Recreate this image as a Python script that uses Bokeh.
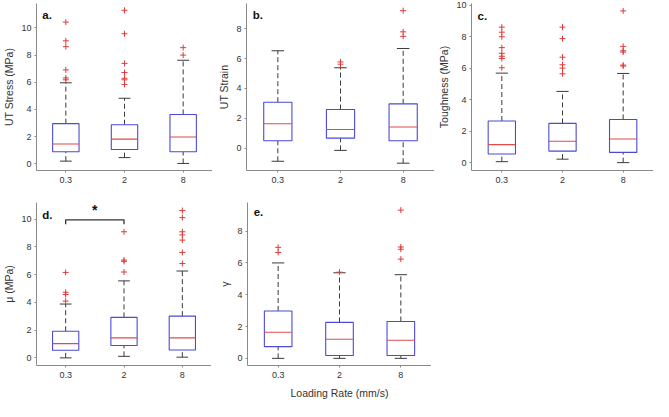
from bokeh.plotting import figure
from bokeh.layouts import column, row
from bokeh.models import FixedTicker, Range1d, ColumnDataSource, Label
from bokeh.embed import file_html
from bokeh.resources import INLINE

rates = ["0.3", "2", "8"]
xpos = [1, 2, 3]

# a. UT Stress (MPa)
a_low = [0.19, 0.45, 0.02]
a_q1 = [0.88, 1.05, 0.88]
a_med = [1.45, 1.81, 1.97]
a_q3 = [2.95, 2.87, 3.63]
a_high = [5.96, 4.82, 7.62]
a_out = [[10.43, 9.05, 8.62, 6.91, 6.32, 6.18],
         [11.3, 9.57, 7.39, 6.72, 6.29, 6.18, 5.84],
         [8.55, 8.0]]

# b. UT Strain
b_low = [-0.88, -0.15, -1.01]
b_q1 = [0.5, 0.67, 0.5]
b_med = [1.64, 1.25, 1.42]
b_q3 = [3.08, 2.59, 2.97]
b_high = [6.53, 5.39, 6.68]
b_out = [[], [5.78, 5.63], [9.22, 7.8, 7.5]]

# c. Toughness (MPa)
c_low = [0.06, 0.22, 0.0]
c_q1 = [0.55, 0.73, 0.65]
c_med = [1.14, 1.36, 1.5]
c_q3 = [2.64, 2.49, 2.74]
c_high = [5.68, 4.52, 5.66]
c_out = [[8.6, 8.28, 7.99, 7.3, 6.94, 6.75, 6.61, 6.02],
         [8.6, 7.87, 6.69, 6.21, 6.0, 5.64],
         [9.63, 7.38, 7.1, 7.02, 6.19, 6.13]]

# d. mu (MPa)
d_low = [0.0, 0.11, 0.05]
d_q1 = [0.55, 0.89, 0.57]
d_med = [1.03, 1.44, 1.44]
d_q3 = [1.92, 2.92, 3.01]
d_high = [3.88, 5.55, 6.26]
d_out = [[6.16, 4.73, 4.57, 4.09],
         [9.09, 7.05, 6.96, 6.19],
         [10.62, 10.11, 9.09, 8.86, 8.49, 7.6, 6.8]]

# e. gamma
e_low = [0.0, 0.0, 0.0]
e_q1 = [0.74, 0.18, 0.18]
e_med = [1.64, 1.2, 1.14]
e_q3 = [2.98, 2.26, 2.32]
e_high = [6.0, 5.38, 5.26]
e_out = [[6.98, 6.66], [5.42], [9.32, 7.0, 6.86, 6.24]]

FONT = "Liberation Sans"
BOX_COLOR = "#4a4ad6"
MED_COLOR = "#e04a4a"
OUT_COLOR = "#e03a3a"
WHISK_COLOR = "#3a3a3a"
AXIS_COLOR = "#8a8a8a"

BOX_W = 0.45
CAP_W = 0.2


def make_panel(letter, letter_y, ylabel, low, q1, med, q3, high, outs, yr, yticks,
               width, height, bl, bt, bb, xlabel=None):
    p = figure(width=width, height=height, output_backend="svg", toolbar_location=None,
               x_range=Range1d(0.5, 3.5), y_range=Range1d(*yr),
               min_border_left=bl, min_border_right=0, min_border_top=bt,
               min_border_bottom=bb)
    p.outline_line_color = None
    p.xgrid.visible = False
    p.ygrid.visible = False
    p.background_fill_color = "white"
    p.border_fill_color = "white"

    src = ColumnDataSource(dict(x=xpos, low=low, q1=q1, med=med, q3=q3, high=high,
                                xl=[v - BOX_W / 2 for v in xpos],
                                xr=[v + BOX_W / 2 for v in xpos],
                                cl=[v - CAP_W / 2 for v in xpos],
                                cr=[v + CAP_W / 2 for v in xpos]))
    # whiskers
    p.segment(x0="x", y0="q3", x1="x", y1="high", source=src, line_color=WHISK_COLOR,
              line_dash="5 3", line_width=1)
    p.segment(x0="x", y0="low", x1="x", y1="q1", source=src, line_color=WHISK_COLOR,
              line_dash="5 3", line_width=1)
    # caps
    p.segment(x0="cl", y0="high", x1="cr", y1="high", source=src, line_color=WHISK_COLOR,
              line_width=1)
    p.segment(x0="cl", y0="low", x1="cr", y1="low", source=src, line_color=WHISK_COLOR,
              line_width=1)
    # boxes
    p.quad(left="xl", right="xr", bottom="q1", top="q3", source=src, fill_color="white",
           line_color=BOX_COLOR, line_width=1.1)
    # medians
    p.segment(x0="xl", y0="med", x1="xr", y1="med", source=src, line_color=MED_COLOR,
              line_width=1.1)
    # outliers
    ox, oy = [], []
    for xv, vals in zip(xpos, outs):
        for v in vals:
            ox.append(xv)
            oy.append(v)
    p.scatter(ox, oy, marker="cross", size=6, line_color=OUT_COLOR, line_width=1)

    # axes
    p.xaxis.ticker = FixedTicker(ticks=xpos)
    p.xaxis.major_label_overrides = {xv: lab for xv, lab in zip(xpos, rates)}
    p.yaxis.ticker = FixedTicker(ticks=yticks)
    for ax in (p.xaxis[0], p.yaxis[0]):
        ax.axis_line_color = AXIS_COLOR
        ax.major_tick_line_color = AXIS_COLOR
        ax.major_tick_out = 2
        ax.major_tick_in = 0
        ax.minor_tick_line_color = None
        ax.major_label_text_font = FONT
        ax.major_label_text_font_size = "9px"
        ax.major_label_text_color = "#333333"
        ax.axis_label_text_font = FONT
        ax.axis_label_text_font_style = "normal"
        ax.axis_label_text_font_size = "10.5px"
        ax.axis_label_text_color = "#333333"
    p.xaxis.major_label_standoff = 4
    p.yaxis.major_label_standoff = 3
    p.yaxis.axis_label = ylabel
    p.yaxis.axis_label_standoff = 3
    if xlabel:
        p.xaxis.axis_label = xlabel
        p.xaxis.axis_label_standoff = 6

    p.add_layout(Label(x=0.6, y=letter_y, text=letter, text_font=FONT,
                       text_font_style="bold", text_font_size="11.5px",
                       text_color="#111111", text_baseline="top"))
    return p


ticks_10 = [0, 2, 4, 6, 8, 10]
ticks_8 = [0, 2, 4, 6, 8]

pa = make_panel("a.", 11.4, "UT Stress (MPa)", a_low, a_q1, a_med, a_q3, a_high, a_out,
                (-0.5, 11.8), ticks_10, 212, 200, 28, 3, 30)
pb = make_panel("b.", 9.35, "UT Strain", b_low, b_q1, b_med, b_q3, b_high, b_out,
                (-1.5, 9.7), ticks_8, 222, 200, 34, 3, 30)
pc = make_panel("c.", 9.7, "Toughness (MPa)", c_low, c_q1, c_med, c_q3, c_high, c_out,
                (-0.5, 10.1), ticks_10, 219, 200, 37, 3, 30)
pd = make_panel("d.", 10.75, "\u03bc (MPa)", d_low, d_q1, d_med, d_q3, d_high, d_out,
                (-0.55, 11.2), ticks_10, 211, 201, 27, 2, 33)
pe = make_panel("e.", 9.45, "\u03b3", e_low, e_q1, e_med, e_q3, e_high, e_out,
                (-0.45, 9.8), ticks_8, 220, 201, 36, 2, 33,
                xlabel="Loading Rate (mm/s)")

# significance bracket in panel d between 0.3 and 2
sig_x = [1, 2]
sig_y = 9.95
sig_drop = 0.32
pd.line([sig_x[0], sig_x[0], sig_x[1], sig_x[1]],
        [sig_y - sig_drop, sig_y, sig_y, sig_y - sig_drop],
        line_color="#333333", line_width=1.3)
pd.add_layout(Label(x=(sig_x[0] + sig_x[1]) / 2, y=sig_y + 0.15, text="*", text_font=FONT,
                    text_font_style="bold", text_font_size="14px", text_align="center",
                    text_baseline="bottom", text_color="#111111"))

layout = column(row(pa, pb, pc), row(pd, pe))

with open("out.html", "w") as f:
    f.write(file_html(layout, INLINE))
